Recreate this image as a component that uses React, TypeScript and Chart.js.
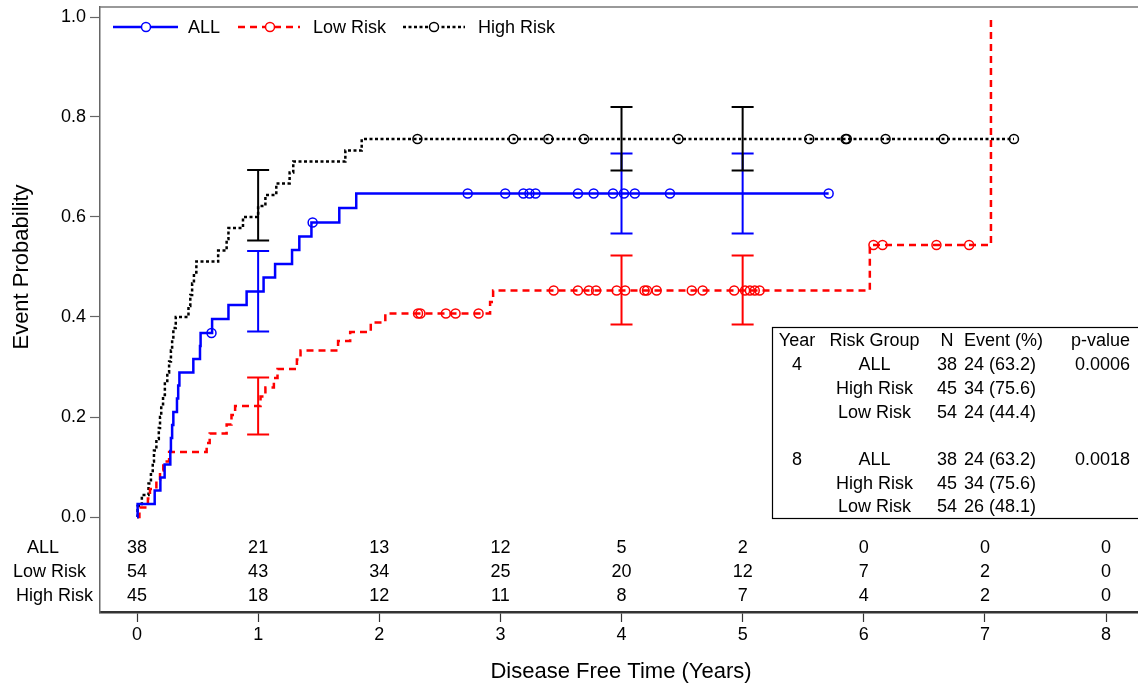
import React, { useEffect, useRef } from 'react';
import { Chart, registerables } from 'chart.js';

Chart.register(...registerables);

const FONT = "'Liberation Sans', Arial, Helvetica, sans-serif";

// ---------- axes ----------
const xTickValues = [0, 1, 2, 3, 4, 5, 6, 7, 8];
const yTickValues = [0, 0.2, 0.4, 0.6, 0.8, 1.0];

// ---------- ALL ----------
const allEventTimes = [0.005, 0.146, 0.193, 0.228, 0.275, 0.28, 0.29, 0.3, 0.33, 0.34, 0.35, 0.465, 0.52, 0.525, 0.62, 0.755, 0.905, 1.045, 1.14, 1.28, 1.34, 1.44, 1.67, 1.81];
const allEventProbs = [0.026, 0.053, 0.079, 0.105, 0.132, 0.158, 0.184, 0.21, 0.237, 0.263, 0.289, 0.316, 0.342, 0.368, 0.396, 0.424, 0.451, 0.479, 0.506, 0.534, 0.561, 0.589, 0.618, 0.647];
const allCensorTimes = [0.615, 1.45, 2.73, 3.04, 3.19, 3.24, 3.29, 3.64, 3.77, 3.93, 4.02, 4.11, 4.4, 5.71];

// ---------- Low Risk ----------
const lowEventTimes = [0.02, 0.09, 0.107, 0.16, 0.19, 0.217, 0.265, 0.575, 0.6, 0.74, 0.78, 0.81, 1.02, 1.06, 1.13, 1.16, 1.32, 1.35, 1.66, 1.76, 1.93, 2.05, 2.915, 2.94, 6.05, 7.05];
const lowEventProbs = [0.019, 0.037, 0.056, 0.074, 0.093, 0.111, 0.13, 0.148, 0.167, 0.185, 0.204, 0.222, 0.241, 0.259, 0.278, 0.296, 0.315, 0.333, 0.352, 0.37, 0.389, 0.407, 0.43, 0.453, 0.544, 1.0];
const lowCensorTimes = [2.32, 2.34, 2.55, 2.63, 2.82, 3.44, 3.64, 3.73, 3.79, 3.96, 4.03, 4.19, 4.21, 4.29, 4.58, 4.67, 4.93, 5.02, 5.06, 5.1, 5.14, 6.08, 6.155, 6.6, 6.87];

// ---------- High Risk ----------
const highEventTimes = [0.005, 0.04, 0.095, 0.115, 0.13, 0.14, 0.16, 0.18, 0.19, 0.2, 0.215, 0.23, 0.25, 0.265, 0.28, 0.29, 0.3, 0.32, 0.425, 0.44, 0.455, 0.47, 0.49, 0.67, 0.74, 0.755, 0.875, 1.0, 1.06, 1.15, 1.26, 1.29, 1.72, 1.855];
const highEventProbs = [0.022, 0.044, 0.067, 0.089, 0.111, 0.133, 0.156, 0.178, 0.2, 0.222, 0.244, 0.267, 0.289, 0.311, 0.333, 0.356, 0.378, 0.4, 0.422, 0.444, 0.467, 0.489, 0.511, 0.533, 0.556, 0.578, 0.6, 0.622, 0.644, 0.667, 0.689, 0.711, 0.733, 0.756];
const highCensorTimes = [2.315, 3.107, 3.396, 3.69, 4.47, 5.55, 5.85, 5.86, 6.18, 6.66, 7.24];

// ---------- error bars ----------
const errTimes = [1, 4, 5];
const allLower = [0.371, 0.567, 0.567];
const allUpper = [0.532, 0.727, 0.727];
const lowLower = [0.165, 0.385, 0.385];
const lowUpper = [0.279, 0.523, 0.523];
const highLower = [0.553, 0.693, 0.693];
const highUpper = [0.694, 0.82, 0.82];

// ---------- number at risk ----------
const atRiskLabels = ['ALL', 'Low Risk', 'High Risk'];
const atRiskAll = [38, 21, 13, 12, 5, 2, 0, 0, 0];
const atRiskLow = [54, 43, 34, 25, 20, 12, 7, 2, 0];
const atRiskHigh = [45, 18, 12, 11, 8, 7, 4, 2, 0];

// ---------- inset table ----------
const tblHeader = ['Year', 'Risk Group', 'N', 'Event (%)', 'p-value'];
const tblYear = ['4', '', '', '', '8', '', ''];
const tblGroup = ['ALL', 'High Risk', 'Low Risk', '', 'ALL', 'High Risk', 'Low Risk'];
const tblN = ['38', '45', '54', '', '38', '45', '54'];
const tblEvent = ['24 (63.2)', '34 (75.6)', '24 (44.4)', '', '24 (63.2)', '34 (75.6)', '26 (48.1)'];
const tblP = ['0.0006', '', '', '', '0.0018', '', ''];

const BLUE = '#0000ff';
const RED = '#ff0000';
const BLACK = '#000000';

function stepValue(times: number[], probs: number[], t: number) {
  let p = 0;
  for (let i = 0; i < times.length; i++) if (times[i] <= t) p = probs[i];
  return p;
}

function curve(times: number[], probs: number[], censors: number[]) {
  const pts = [{ x: 0, y: 0 }];
  times.forEach((t, i) => pts.push({ x: t, y: probs[i] }));
  const lastC = censors[censors.length - 1];
  if (lastC > times[times.length - 1]) pts.push({ x: lastC, y: probs[probs.length - 1] });
  return pts;
}

function censorPts(times: number[], probs: number[], censors: number[]) {
  return censors.map((t) => ({ x: t, y: stepValue(times, probs, t) }));
}

const overlay = {
  id: 'overlay',
  afterDatasetsDraw(chart: any) {
    const { ctx, chartArea } = chart;
    const x = chart.scales.x;
    const y = chart.scales.y;
    ctx.save();

    // top frame line
    ctx.strokeStyle = '#777';
    ctx.lineWidth = 1.5;
    ctx.setLineDash([]);
    ctx.beginPath();
    ctx.moveTo(chartArea.left, chartArea.top);
    ctx.lineTo(chartArea.right, chartArea.top);
    ctx.stroke();

    // error bars
    const groups = [
      { color: BLUE, lo: allLower, hi: allUpper },
      { color: RED, lo: lowLower, hi: lowUpper },
      { color: BLACK, lo: highLower, hi: highUpper },
    ];
    groups.forEach((g) => {
      ctx.strokeStyle = g.color;
      ctx.lineWidth = 2;
      errTimes.forEach((t, i) => {
        const px = x.getPixelForValue(t);
        const yl = y.getPixelForValue(g.lo[i]);
        const yu = y.getPixelForValue(g.hi[i]);
        ctx.beginPath();
        ctx.moveTo(px, yl);
        ctx.lineTo(px, yu);
        ctx.moveTo(px - 11, yl);
        ctx.lineTo(px + 11, yl);
        ctx.moveTo(px - 11, yu);
        ctx.lineTo(px + 11, yu);
        ctx.stroke();
      });
    });

    // legend
    const legendItems = [
      { label: 'ALL', color: BLUE, dash: [] as number[], x0: 113, x1: 178, cx: 146, tx: 188 },
      { label: 'Low Risk', color: RED, dash: [7, 5], x0: 238, x1: 300, cx: 270, tx: 313 },
      { label: 'High Risk', color: BLACK, dash: [3, 2.5], x0: 403, x1: 465, cx: 434, tx: 478 },
    ];
    const ly = 27;
    ctx.font = `18px ${FONT}`;
    ctx.textBaseline = 'middle';
    ctx.textAlign = 'left';
    legendItems.forEach((it) => {
      ctx.strokeStyle = it.color;
      ctx.lineWidth = 2.5;
      ctx.setLineDash(it.dash);
      ctx.beginPath();
      ctx.moveTo(it.x0, ly);
      ctx.lineTo(it.x1, ly);
      ctx.stroke();
      ctx.setLineDash([]);
      ctx.lineWidth = 1.5;
      ctx.fillStyle = '#fff';
      ctx.beginPath();
      ctx.arc(it.cx, ly, 4.5, 0, Math.PI * 2);
      ctx.fill();
      ctx.stroke();
      ctx.fillStyle = '#000';
      ctx.fillText(it.label, it.tx, ly + 1);
    });

    // number at risk
    const rowsY = [548, 572, 596];
    const rowData = [atRiskAll, atRiskLow, atRiskHigh];
    const labelX = [27, 13, 16];
    ctx.fillStyle = '#000';
    ctx.font = `18px ${FONT}`;
    rowData.forEach((row, r) => {
      ctx.textAlign = 'left';
      ctx.fillText(atRiskLabels[r], labelX[r], rowsY[r]);
      ctx.textAlign = 'center';
      row.forEach((v, i) => {
        ctx.fillText(String(v), x.getPixelForValue(xTickValues[i]), rowsY[r]);
      });
    });

    // inset table
    ctx.strokeStyle = '#000';
    ctx.lineWidth = 1.2;
    ctx.strokeRect(772.5, 327.5, 380, 191);
    const rowH = 23.7;
    const y0 = 341.5;
    const colYear = 797;
    const colGroup = 874.5;
    const colN = 947;
    const colEvent = 964;
    const colP = 1130;
    const drawRow = (yy: number, a: string, b: string, c: string, d: string, e: string) => {
      ctx.textAlign = 'center';
      ctx.fillText(a, colYear, yy);
      ctx.fillText(b, colGroup, yy);
      ctx.fillText(c, colN, yy);
      ctx.textAlign = 'left';
      ctx.fillText(d, colEvent, yy);
      ctx.textAlign = 'right';
      ctx.fillText(e, colP, yy);
    };
    drawRow(y0, tblHeader[0], tblHeader[1], tblHeader[2], tblHeader[3], tblHeader[4]);
    tblGroup.forEach((g, i) => {
      drawRow(y0 + rowH * (i + 1), tblYear[i], g, tblN[i], tblEvent[i], tblP[i]);
    });

    // axis titles
    ctx.font = `22px ${FONT}`;
    ctx.textAlign = 'center';
    ctx.fillText('Disease Free Time (Years)', 621, 672);
    ctx.save();
    ctx.translate(22, 267);
    ctx.rotate(-Math.PI / 2);
    ctx.fillText('Event Probability', 0, 0);
    ctx.restore();

    ctx.restore();
  },
};

const CANVAS_W = 1144;

export default function App() {
  const ref = useRef<HTMLCanvasElement | null>(null);
  useEffect(() => {
    if (!ref.current) return;
    const lineDs = (label: string, color: string, dash: number[], data: any[]) => ({
      type: 'line' as const,
      label,
      data,
      borderColor: color,
      borderWidth: 2.5,
      borderDash: dash,
      stepped: 'before' as const,
      pointRadius: 0,
      fill: false,
    });
    const censorDs = (label: string, color: string, data: any[]) => ({
      type: 'scatter' as const,
      label,
      data,
      borderColor: color,
      backgroundColor: 'rgba(255,255,255,0)',
      pointStyle: 'circle' as const,
      pointRadius: 4.5,
      pointBorderWidth: 1.5,
      showLine: false,
    });
    const chart = new Chart(ref.current, {
      type: 'line',
      data: {
        datasets: [
          censorDs('ALL censored', BLUE, censorPts(allEventTimes, allEventProbs, allCensorTimes)),
          censorDs('Low censored', RED, censorPts(lowEventTimes, lowEventProbs, lowCensorTimes)),
          censorDs('High censored', BLACK, censorPts(highEventTimes, highEventProbs, highCensorTimes)),
          lineDs('ALL', BLUE, [], curve(allEventTimes, allEventProbs, allCensorTimes)),
          lineDs('Low Risk', RED, [7, 5], curve(lowEventTimes, lowEventProbs, [7.05])),
          lineDs('High Risk', BLACK, [3, 2.5], curve(highEventTimes, highEventProbs, highCensorTimes)),
        ] as any,
      },
      options: {
        animation: false,
        responsive: false,
        devicePixelRatio: 1,
        layout: { padding: { top: 7, left: 0, right: 0, bottom: 0 } },
        plugins: { legend: { display: false }, tooltip: { enabled: false } },
        scales: {
          x: {
            type: 'linear',
            min: -0.3055,
            max: 8.264,
            afterFit: (s: any) => {
              s.height = 78;
              s.paddingLeft = 0;
              s.paddingRight = 0;
            },
            afterBuildTicks: (s: any) => {
              s.ticks = xTickValues.map((v) => ({ value: v }));
            },
            grid: { drawOnChartArea: false, drawTicks: true, tickLength: 10, tickColor: '#333', tickWidth: 1.2 },
            border: { display: true, color: '#333', width: 2.5 },
            ticks: {
              color: '#000',
              font: { family: FONT, size: 18 },
              padding: 2,
              maxRotation: 0,
              callback: (v: any) => String(v),
            },
          },
          y: {
            type: 'linear',
            min: -0.19,
            max: 1.02,
            afterFit: (s: any) => {
              s.width = 100;
              s.paddingTop = 0;
              s.paddingBottom = 0;
            },
            afterBuildTicks: (s: any) => {
              s.ticks = yTickValues.map((v) => ({ value: v }));
            },
            grid: { drawOnChartArea: false, drawTicks: true, tickLength: 10, tickColor: '#666', tickWidth: 1.2 },
            border: { display: true, color: '#666', width: 1.5 },
            ticks: {
              color: '#000',
              font: { family: FONT, size: 18 },
              padding: 4,
              callback: (v: any) => Number(v).toFixed(1),
            },
          },
        },
      } as any,
      plugins: [overlay],
    });
    return () => chart.destroy();
  }, []);
  return (
    <div style={{ position: 'absolute', left: 0, top: 0, width: 1138, height: 690, overflow: 'hidden', background: '#fff' }}>
      <canvas ref={ref} width={CANVAS_W} height={690} style={{ width: CANVAS_W, height: 690, display: 'block' }} />
    </div>
  );
}
